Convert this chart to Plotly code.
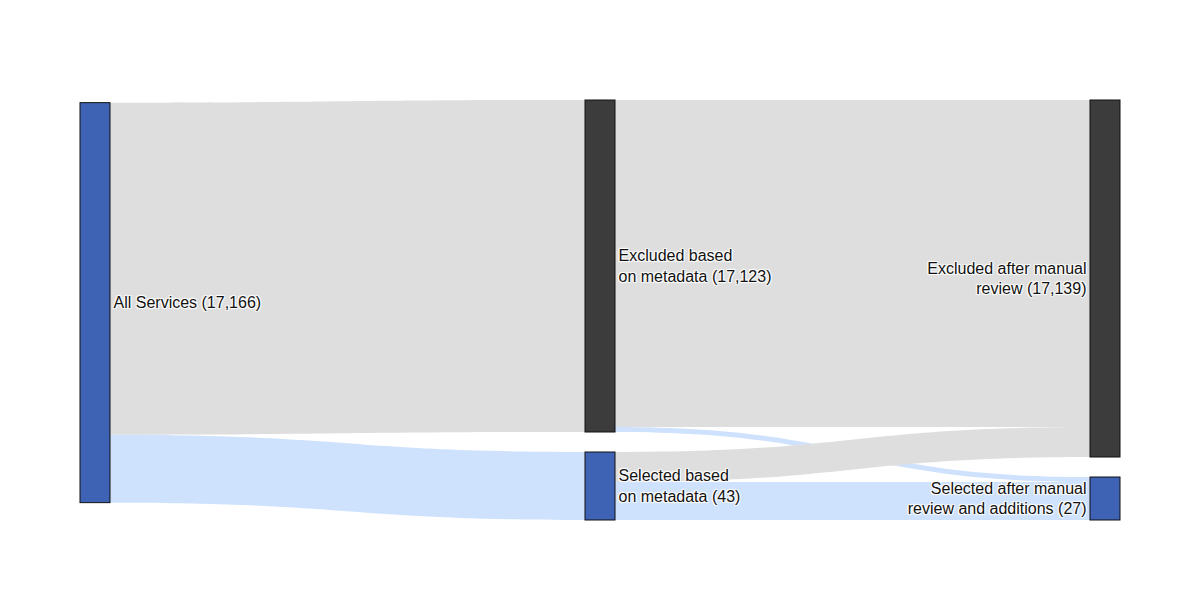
import plotly.graph_objects as go

node_labels = [
    "All Services (17,166)",
    "Excluded based<br>on metadata (17,123)",
    "Selected based<br>on metadata (43)",
    "Excluded after manual<br>review (17,139)",
    "Selected after manual<br>review and additions (27)",
]
node_colors = ["#3e63b4", "#3c3c3c", "#3e63b4", "#3c3c3c", "#3e63b4"]

link_source = [0, 0, 1, 1, 2, 2]
link_target = [1, 2, 3, 4, 3, 4]
# visual weights (band thickness)
link_value = [332, 68, 327, 5, 30, 38]
link_colors = ["#dedede", "#cfe2fd", "#dedede", "#cfe2fd", "#dedede", "#cfe2fd"]

fig = go.Figure(go.Sankey(
    node=dict(
        label=node_labels,
        color=node_colors,
        thickness=30,
        pad=20,
        line=dict(color="#111111", width=1),
    ),
    link=dict(
        source=link_source,
        target=link_target,
        value=link_value,
        color=link_colors,
    ),
    textfont=dict(family="Liberation Sans, Arial, sans-serif", size=16, color="#111111"),
))

fig.update_layout(
    width=1200,
    height=600,
    margin=dict(l=80, r=80, t=100, b=80),
    paper_bgcolor="white",
    plot_bgcolor="white",
)

fig.write_html("out.html")
